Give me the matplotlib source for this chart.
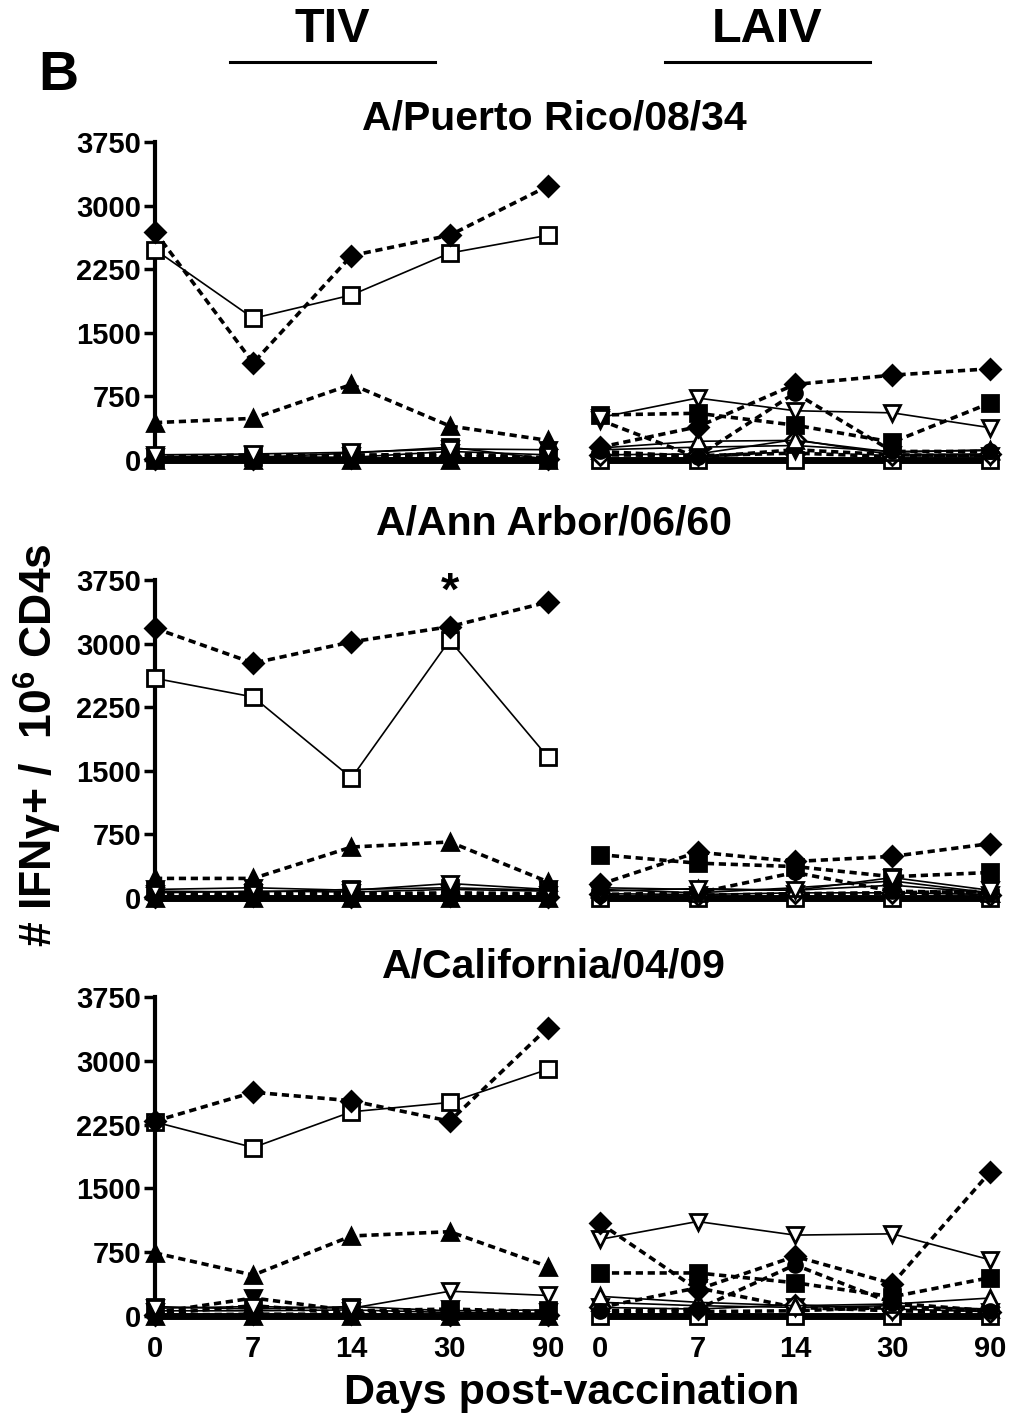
import matplotlib
matplotlib.use("Agg")
import matplotlib.pyplot as plt
import numpy as np

plt.rcParams['font.family'] = ['Liberation Sans', 'DejaVu Sans']
plt.rcParams['font.weight'] = 'bold'
plt.rcParams['mathtext.fontset'] = 'custom'
plt.rcParams['mathtext.rm'] = 'Liberation Sans:bold'
plt.rcParams['mathtext.bf'] = 'Liberation Sans:bold'

days = ["0", "7", "14", "30", "90"]
strains = ["A/Puerto Rico/08/34", "A/Ann Arbor/06/60", "A/California/04/09"]
yticks = [0, 750, 1500, 2250, 3000, 3750]

# TIV subjects (same subject styles across strains)
tiv_pr8 = [
    [2690, 1144, 2410, 2650, 3230],
    [2480, 1670, 1945, 2440, 2650],
    [440, 490, 890, 400, 230],
    [60, 70, 90, 130, 120],
    [30, 60, 50, 80, 20],
    [20, 30, 80, 150, 10],
    [10, 20, 60, 40, 30],
    [0, 0, 0, 0, 0],
    [40, 40, 30, 100, 60],
    [5, 10, 20, 50, 10],
]
tiv_aa = [
    [3180, 2770, 3020, 3200, 3490],
    [2590, 2370, 1415, 3040, 1660],
    [230, 230, 600, 660, 190],
    [100, 120, 90, 170, 100],
    [50, 60, 60, 50, 30],
    [80, 70, 100, 120, 90],
    [30, 30, 40, 60, 50],
    [0, 0, 0, 0, 0],
    [60, 80, 70, 100, 80],
    [10, 20, 10, 20, 10],
]
tiv_ca = [
    [2290, 2630, 2530, 2290, 3390],
    [2280, 1980, 2400, 2510, 2900],
    [740, 480, 940, 990, 580],
    [90, 110, 90, 290, 240],
    [40, 210, 60, 80, 50],
    [110, 80, 110, 60, 70],
    [20, 120, 30, 60, 40],
    [0, 0, 0, 0, 0],
    [60, 60, 70, 40, 30],
    [10, 20, 20, 10, 10],
]
# LAIV subjects
laiv_pr8 = [
    [150, 390, 890, 1000, 1075],
    [500, 730, 580, 555, 380],
    [530, 550, 410, 210, 670],
    [100, 40, 790, 100, 100],
    [140, 220, 230, 90, 120],
    [60, 70, 240, 60, 70],
    [470, 30, 120, 60, 50],
    [0, 0, 0, 0, 0],
    [120, 150, 170, 100, 110],
    [60, 50, 80, 40, 60],
]
laiv_aa = [
    [160, 540, 430, 490, 640],
    [80, 110, 90, 240, 90],
    [510, 410, 370, 250, 300],
    [40, 60, 300, 80, 60],
    [100, 60, 120, 200, 60],
    [50, 40, 60, 60, 40],
    [30, 30, 50, 60, 30],
    [0, 0, 0, 0, 0],
    [120, 100, 90, 150, 60],
    [40, 30, 40, 60, 80],
]
laiv_ca = [
    [1090, 310, 700, 380, 1690],
    [900, 1110, 950, 965, 660],
    [505, 505, 390, 225, 450],
    [60, 80, 600, 150, 60],
    [230, 160, 120, 140, 210],
    [100, 80, 130, 80, 50],
    [100, 330, 100, 60, 40],
    [0, 0, 0, 0, 0],
    [160, 120, 100, 120, 80],
    [40, 50, 60, 100, 60],
]

# style: (marker, filled, dotted)
tiv_styles = [('D', True, True), ('s', False, False), ('^', True, True),
              ('v', False, False), ('v', True, True), ('s', True, False),
              ('o', True, True), ('^', True, False), ('o', False, False),
              ('D', False, True)]
laiv_styles = [('D', True, True), ('v', False, False), ('s', True, True),
               ('o', True, True), ('^', False, False), ('D', False, False),
               ('v', True, True), ('s', False, False), ('^', True, False),
               ('o', False, True)]

W, H = 1016, 1420
fig = plt.figure(figsize=(W / 100, H / 100), dpi=100)

def fx(px):
    return px / W

def fy(px):
    return 1 - px / H

row_top = [142, 580, 997]
row_bot = [465, 903, 1321]
cols = [(155, 548), (600, 990)]
ymin = -60

data = [[tiv_pr8, laiv_pr8], [tiv_aa, laiv_aa], [tiv_ca, laiv_ca]]
xs = np.arange(len(days))

def msize(m):
    return {'D': 10, 's': 11, '^': 11, 'v': 11, 'o': 10}[m]

for r in range(3):
    for c in range(2):
        x0, x1 = cols[c]
        ax = fig.add_axes([fx(x0), fy(row_bot[r]), fx(x1 - x0),
                           (row_bot[r] - row_top[r]) / H])
        styles = tiv_styles if c == 0 else laiv_styles
        series = data[r][c]
        order = list(range(len(series)))[::-1]
        for i in order:
            m, filled, dotted = styles[i]
            ls = (0, (2.0, 1.3)) if dotted else '-'
            lw = 2.6 if dotted else 1.2
            if max(series[i]) == 0:
                lw = 5.0
            ax.plot(xs, series[i], linestyle=ls, linewidth=lw, color='black',
                    marker=m, markersize=msize(m),
                    markerfacecolor='black' if filled else 'white',
                    markeredgecolor='black', markeredgewidth=2.0,
                    clip_on=False, zorder=3 + (len(series) - i) * 0.1)
        ax.set_xlim(0, 4)
        ax.set_ylim(ymin, 3750)
        for s in ['top', 'right', 'bottom']:
            ax.spines[s].set_visible(False)
        ax.patch.set_visible(False)
        if c == 0:
            ax.spines['left'].set_linewidth(3)
            ax.spines['left'].set_bounds(ymin, 3750)
            ax.set_yticks(yticks)
            ax.set_yticklabels([str(t) for t in yticks], fontsize=21,
                               fontweight='bold')
            ax.tick_params(axis='y', length=8, width=2.5, pad=2)
        else:
            ax.spines['left'].set_visible(False)
            ax.set_yticks([])
        ax.set_xticks(xs)
        if r == 2:
            ax.set_xticklabels(days, fontsize=21, fontweight='bold')
            ax.tick_params(axis='x', length=0, pad=10)
        else:
            ax.set_xticklabels([])
            ax.tick_params(axis='x', length=0)
        if r == 1 and c == 0:
            ax.text(3, 3600, '*', ha='center', va='center', fontsize=34,
                    fontweight='bold')

# strain titles
title_y = [118, 523, 967]
for r in range(3):
    fig.text(fx(554), fy(title_y[r]), strains[r], ha='center', va='center',
             fontsize=29.5, fontweight='bold')

# group headers
fig.text(fx(332), fy(30), 'TIV', ha='center', va='center', fontsize=35,
         fontweight='bold')
fig.text(fx(767), fy(30), 'LAIV', ha='center', va='center', fontsize=35,
         fontweight='bold')
fig.add_artist(plt.Line2D([fx(230), fx(435)], [fy(62), fy(62)], color='black',
                          linewidth=2.2))
fig.add_artist(plt.Line2D([fx(665), fx(870)], [fy(62), fy(62)], color='black',
                          linewidth=2.2))
fig.text(fx(58), fy(76), 'B', ha='center', va='center', fontsize=40,
         fontweight='bold')

fig.text(fx(38), fy(745), '# IFNγ+ /  10$^{6}$ CD4s', rotation=90,
         ha='center', va='center', fontsize=32, fontweight='bold')
fig.text(fx(572), fy(1393), 'Days post-vaccination', ha='center',
         va='center', fontsize=31, fontweight='bold')

fig.savefig('out.png', dpi=100)
